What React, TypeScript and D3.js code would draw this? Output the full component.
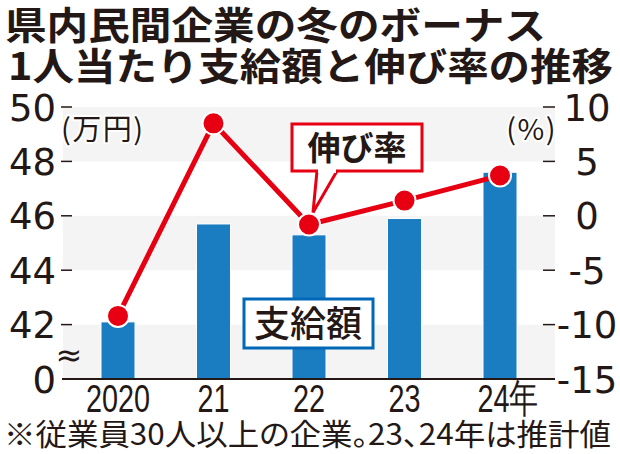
import React, { useEffect, useRef } from "react";
import * as d3 from "d3";

const years = ["2020", "21", "22", "23", "24年"];
const bonus = [42.1, 45.7, 45.3, 45.9, 47.6]; // 万円
const growth = [-9.2, 8.5, -0.8, 1.4, 3.7]; // %
const leftTicks = [40, 42, 44, 46, 48, 50];
const leftTickLabels = ["0", "42", "44", "46", "48", "50"];
const rightTicks = [-15, -10, -5, 0, 5, 10];
const titleLines = ["県内民間企業の冬のボーナス", "1人当たり支給額と伸び率の推移"];
const note = "※従業員30人以上の企業。23、24年は推計値";

const W = 620;
const H = 454;
const INK = "#231815";
const RED = "#e60012";
const BLUE = "#1a7dc2";
const JP = "'Noto Sans CJK JP', 'Noto Sans', sans-serif";
const NUM = "'DejaVu Sans', sans-serif";

const App: React.FC = () => {
  const svgRef = useRef<SVGSVGElement | null>(null);

  useEffect(() => {
    const svg = d3.select(svgRef.current).attr("width", W).attr("height", H);
    svg.selectAll("*").remove();

    const plotLeft = 63;
    const plotRight = 555;
    const top = 107;
    const bottom = 379;

    const x = d3.scalePoint<string>().domain(years).range([118, 500]);
    const yL = d3.scaleLinear().domain([40, 50]).range([bottom, top]);
    const yR = d3.scaleLinear().domain([-15, 10]).range([bottom, top]);
    const barW = 34;

    svg.append("rect").attr("width", W).attr("height", H).attr("fill", "#fff");

    // background bands (every other gap between ticks)
    const bands = svg.append("g");
    [40, 44, 48].forEach((t) => {
      bands
        .append("rect")
        .attr("x", plotLeft)
        .attr("width", plotRight - plotLeft)
        .attr("y", yL(t + 2))
        .attr("height", yL(t) - yL(t + 2))
        .attr("fill", "#f4f4f4");
    });

    // title
    svg
      .append("g")
      .selectAll("text")
      .data(titleLines)
      .join("text")
      .attr("x", (_, i) => (i === 0 ? 5 : 8))
      .attr("y", (_, i) => 39 + i * 41)
      .attr("font-family", JP)
      .attr("font-weight", 700)
      .attr("font-size", 38)
      .attr("textLength", (_, i) => (i === 0 ? 541 : 605))
      .attr("lengthAdjust", "spacingAndGlyphs")
      .attr("fill", INK)
      .text((d) => d);

    // bars
    svg
      .append("g")
      .selectAll("rect")
      .data(bonus)
      .join("rect")
      .attr("x", (_, i) => (x(years[i]) || 0) - barW / 2)
      .attr("y", (d) => yL(d))
      .attr("width", barW)
      .attr("height", (d) => yL(40) - yL(d))
      .attr("fill", BLUE)
      .attr("stroke", "#fff")
      .attr("stroke-width", 1);

    // baseline
    svg
      .append("line")
      .attr("x1", plotLeft - 1)
      .attr("x2", plotRight)
      .attr("y1", bottom)
      .attr("y2", bottom)
      .attr("stroke", INK)
      .attr("stroke-width", 2);

    // left axis
    const la = svg.append("g");
    leftTicks.forEach((t, i) => {
      if (t !== 40)
        la.append("line")
          .attr("x1", 61)
          .attr("x2", 72)
          .attr("y1", yL(t))
          .attr("y2", yL(t))
          .attr("stroke", INK)
          .attr("stroke-width", 1.5);
      la.append("text")
        .attr("x", 56)
        .attr("y", yL(t) + 13.5)
        .attr("text-anchor", "end")
        .attr("font-family", NUM)
        .attr("font-size", 37)
        .attr("fill", INK)
        .text(leftTickLabels[i]);
    });
    la.append("text")
      .attr("x", 69)
      .attr("y", yL(41) + 14)
      .attr("text-anchor", "middle")
      .attr("font-family", NUM)
      .attr("font-size", 32)
      .attr("fill", INK)
      .text("≈");

    // right axis
    const ra = svg.append("g");
    rightTicks.forEach((t) => {
      if (t !== -15)
        ra.append("line")
          .attr("x1", 543)
          .attr("x2", 555)
          .attr("y1", yR(t))
          .attr("y2", yR(t))
          .attr("stroke", INK)
          .attr("stroke-width", 1.5);
      ra.append("text")
        .attr("x", 587)
        .attr("y", yR(t) + 13.5)
        .attr("text-anchor", "middle")
        .attr("font-family", NUM)
        .attr("font-size", 37)
        .attr("fill", INK)
        .text(t);
    });

    // units
    const unit = (tx: number, label: string, anchor: string) =>
      svg
        .append("text")
        .attr("x", tx)
        .attr("y", 140)
        .attr("text-anchor", anchor)
        .attr("font-family", JP)
        .attr("font-size", 29)
        .attr("letter-spacing", 1.5)
        .attr("fill", INK)
        .attr("stroke", "#fff")
        .attr("stroke-width", 4)
        .attr("paint-order", "stroke")
        .attr("stroke-linejoin", "round")
        .text(label);
    unit(61, "(万円)", "start");
    unit(557, "(%)", "end");

    // x labels
    svg
      .append("g")
      .selectAll("text")
      .data(years)
      .join("text")
      .attr(
        "transform",
        (d, i) =>
          `translate(${(x(d) || 0) + (i === years.length - 1 ? 8 : 0)},412) scale(0.8,1.1)`
      )
      .attr("text-anchor", "middle")
      .attr("font-family", "'Liberation Sans', sans-serif")
      .attr("font-size", 36)
      .attr("fill", INK)
      .text((d) => d);

    // growth line
    const line = d3
      .line<number>()
      .x((_, i) => x(years[i]) || 0)
      .y((d) => yR(d));
    svg
      .append("path")
      .datum(growth)
      .attr("d", line)
      .attr("fill", "none")
      .attr("stroke", RED)
      .attr("stroke-width", 5)
      .attr("stroke-linejoin", "round");
    svg
      .append("g")
      .selectAll("circle")
      .data(growth)
      .join("circle")
      .attr("cx", (_, i) => x(years[i]) || 0)
      .attr("cy", (d) => yR(d))
      .attr("r", 11)
      .attr("fill", RED)
      .attr("stroke", "#fff")
      .attr("stroke-width", 2);

    // callout: 伸び率
    const cx = x(years[2]) || 0;
    const cy = yR(growth[2]);
    const cb = svg.append("g");
    cb.append("rect")
      .attr("x", 292)
      .attr("y", 124)
      .attr("width", 130)
      .attr("height", 47)
      .attr("fill", "#fff")
      .attr("stroke", RED)
      .attr("stroke-width", 3);
    cb.append("path")
      .attr("d", `M${cx + 8},171 L${cx + 4},${cy - 12} L${cx + 28},171`)
      .attr("fill", "#fff")
      .attr("stroke", RED)
      .attr("stroke-width", 3)
      .attr("stroke-linejoin", "miter");
    cb.append("rect")
      .attr("x", cx + 9)
      .attr("y", 168)
      .attr("width", 18)
      .attr("height", 5)
      .attr("fill", "#fff");
    cb.append("text")
      .attr("x", 357)
      .attr("y", 160)
      .attr("text-anchor", "middle")
      .attr("font-family", JP)
      .attr("font-weight", 700)
      .attr("font-size", 33)
      .attr("fill", INK)
      .text("伸び率");

    // label: 支給額
    const bl = svg.append("g");
    bl.append("rect")
      .attr("x", 244)
      .attr("y", 299)
      .attr("width", 129)
      .attr("height", 49)
      .attr("fill", "#fff")
      .attr("stroke", "#0068b7")
      .attr("stroke-width", 3);
    bl.append("text")
      .attr("x", 308)
      .attr("y", 337)
      .attr("text-anchor", "middle")
      .attr("font-family", JP)
      .attr("font-weight", 500)
      .attr("font-size", 36)
      .attr("fill", INK)
      .text("支給額");

    // footnote
    svg
      .append("text")
      .attr("x", 4)
      .attr("y", 445)
      .attr("font-family", JP)
      .attr("font-size", 30)
      .style("font-feature-settings", '"palt" 1')
      .attr("textLength", 607)
      .attr("lengthAdjust", "spacingAndGlyphs")
      .attr("fill", INK)
      .text(note);
  }, []);

  return (
    <svg
      ref={svgRef}
      style={{ position: "absolute", left: 0, top: 0, display: "block" }}
    ></svg>
  );
};

export default App;
